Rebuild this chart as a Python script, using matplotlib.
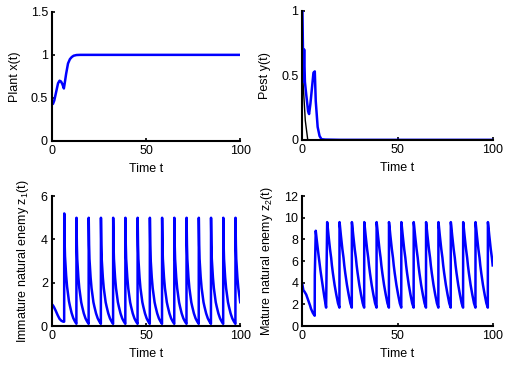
import matplotlib
matplotlib.use("Agg")
import matplotlib.pyplot as plt

plt.rcParams["font.family"] = ["Liberation Sans", "DejaVu Sans"]
plt.rcParams["mathtext.fontset"] = "custom"
plt.rcParams["mathtext.rm"] = "Liberation Sans"
plt.rcParams["mathtext.it"] = "Liberation Sans"
plt.rcParams["font.size"] = 9

# plant x(t)
plant_t = [0, 0.5, 1.2, 1.8, 2.5, 3.2, 4.0, 4.8, 5.5, 6.3, 6.6, 7.5, 8.5, 9.5, 10.5, 11.5, 13, 15, 100]
plant_x = [0.45, 0.43, 0.47, 0.53, 0.6, 0.67, 0.7, 0.69, 0.66, 0.61, 0.65, 0.78, 0.9, 0.95, 0.975, 0.99, 0.998, 1.0, 1.0]

# pest y(t)
pest_t = [0, 0.5, 0.9, 1.3, 2.0, 3.0, 3.5, 4.2, 5.0, 5.8, 6.5, 7.0, 8.0, 9.0, 10.0, 12.0, 20.0, 100.0]
pest_y = [1.0, 0.45, 0.7, 0.45, 0.35, 0.22, 0.2, 0.28, 0.4, 0.52, 0.53, 0.3, 0.1, 0.03, 0.005, 0.002, 0.0, 0.0]
pest_black_t = [0, 0.3, 1.5, 2.8]
pest_black_y = [0.6, 0.45, 0.15, 0.0]

# impulse (release) times
impulse_times = [6.5, 13.0, 19.5, 26.0, 32.5, 39.0, 45.5, 52.0, 58.5, 65.0, 71.5, 78.0, 84.5, 91.0, 97.5]

# immature natural enemy z1(t)
z1_start_t = [0, 0.5, 1.0, 2.0, 3.0, 4.0, 5.0, 6.0, 6.45]
z1_start = [1.0, 0.95, 0.88, 0.7, 0.5, 0.33, 0.24, 0.2, 0.2]
z1_peaks = [5.2, 5.0, 5.0, 5.0, 5.0, 5.0, 5.0, 5.0, 5.0, 5.0, 5.0, 5.0, 5.0, 5.0, 5.0]
cycle_dt = [0, 0.2, 0.4, 0.7, 1.0, 1.5, 2.1, 2.5, 3.0, 3.9, 4.8, 5.7, 6.45]
z1_cycle = [1.0, 0.75, 0.62, 0.53, 0.45, 0.35, 0.27, 0.22, 0.18, 0.116, 0.07, 0.04, 0.02]

# mature natural enemy z2(t)
z2_start_t = [0, 0.5, 1.0, 2.0, 3.0, 4.0, 4.5, 5.5, 6.45, 6.5, 7.0]
z2_start = [3.8, 3.3, 3.2, 2.9, 2.4, 1.9, 1.6, 1.2, 0.95, 4.7, 8.8]
z2_first_t = [7.5, 8.5, 9.5, 10.5, 11.5, 12.45]
z2_first = [8.0, 6.5, 5.1, 3.9, 2.7, 1.7]
z2_cycle = [9.6, 9.3, 8.9, 8.4, 7.9, 7.1, 6.3, 5.6, 4.9, 3.8, 2.9, 2.1, 1.7]


def build(times_start, values_start, skip_first, peaks, profile):
    t = list(times_start)
    v = list(values_start)
    for i, T in enumerate(impulse_times):
        if i == 0 and skip_first:
            continue
        end = impulse_times[i + 1] if i + 1 < len(impulse_times) else 100.0
        for dt, val in zip(cycle_dt, profile):
            if T + dt <= end:
                t.append(T + dt)
                v.append(val * peaks[i] if peaks else val)
    return t, v


z1_t, z1_v = build(z1_start_t, z1_start, False, z1_peaks, z1_cycle)
z2_t, z2_v = build(z2_start_t + z2_first_t, z2_start + z2_first, True, None, z2_cycle)

fig = plt.figure(figsize=(5.1, 3.69), dpi=100)
ax1 = fig.add_axes([0.102, 0.618, 0.369, 0.350])
ax2 = fig.add_axes([0.593, 0.621, 0.373, 0.350])
ax3 = fig.add_axes([0.102, 0.1165, 0.369, 0.352])
ax4 = fig.add_axes([0.593, 0.1165, 0.373, 0.352])

blue = "#0000ff"
ax1.plot(plant_t, plant_x, color=blue, lw=1.8)
ax2.plot(pest_black_t, pest_black_y, color="black", lw=1.0)
ax2.plot(pest_t, pest_y, color=blue, lw=1.8)
ax3.plot(z1_t, z1_v, color=blue, lw=1.8)
ax4.plot(z2_t, z2_v, color=blue, lw=1.8)

ax1.set_ylim(0, 1.5)
ax1.set_yticks([0, 0.5, 1, 1.5], ["0", "0.5", "1", "1.5"])
ax1.set_ylabel("Plant x(t)")
ax2.set_ylim(0, 1)
ax2.set_yticks([0, 0.5, 1], ["0", "0.5", "1"])
ax2.set_ylabel("Pest y(t)")
ax3.set_ylim(0, 6)
ax3.set_yticks([0, 2, 4, 6])
ax3.set_ylabel("Immature natural enemy z$_1$(t)")
ax4.set_ylim(0, 12)
ax4.set_yticks([0, 2, 4, 6, 8, 10, 12])
ax4.set_ylabel("Mature natural enemy z$_2$(t)")

for ax in (ax1, ax2, ax3, ax4):
    ax.set_xlim(0, 100)
    ax.set_xticks([0, 50, 100])
    ax.set_xlabel("Time t", labelpad=4)
    ax.spines["top"].set_visible(False)
    ax.spines["right"].set_visible(False)
    ax.spines["left"].set_linewidth(1.5)
    ax.spines["bottom"].set_linewidth(1.5)
    ax.tick_params(direction="in", length=2.5, width=1.2, pad=3, labelsize=9)
    ax.yaxis.labelpad = 7

fig.savefig("out.png", dpi=100)
